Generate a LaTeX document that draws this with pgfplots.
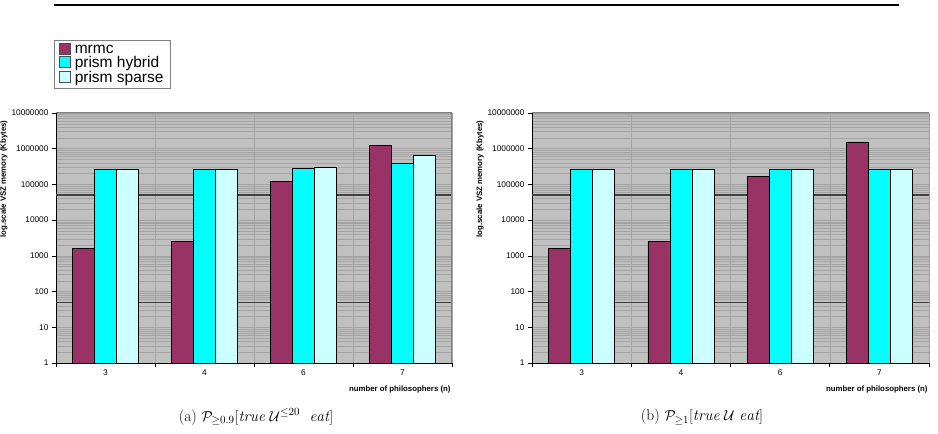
\documentclass[border=0pt]{standalone}
\usepackage{fontspec}
\setsansfont{Liberation Sans}
\usepackage{pgfplots}
\usepackage{pgfplotstable}
\pgfplotsset{compat=1.18}
\pgfkeys{/pgf/number format/assume math mode=true}

\definecolor{mrmc}{HTML}{993366}
\definecolor{hybrid}{HTML}{00FFFF}
\definecolor{sparse}{HTML}{CCFFFF}
\definecolor{plotbg}{HTML}{C0C0C0}
\definecolor{gridc}{HTML}{A4A4A4}
\definecolor{framec}{HTML}{808080}

% VSZ memory (Kbytes) per number of philosophers
\pgfplotstableread{
pos n mrmc hybrid sparse
0 3 1625 265000 265000
1 4 2600 265000 265000
2 6 122500 283000 307000
3 7 1216000 380000 638000
}\bounded

\pgfplotstableread{
pos n mrmc hybrid sparse
0 3 1625 265000 265000
1 4 2600 265000 265000
2 6 165000 265000 265000
3 7 1543000 265000 265000
}\unbounded

\pgfplotsset{
  every axis/.append style={
    scale only axis, height=250pt,
    ymin=1, ymax=1e7,
    xmin=-0.5, xmax=3.5,
    axis lines*=left,
    axis line style={black, line width=0.8pt},
    tick align=outside, major tick length=4pt, minor tick length=0pt,
    tick style={black, line width=0.6pt},
    xtick={-0.5,0.5,1.5,2.5,3.5}, xticklabels={},
    extra x ticks={0,1,2,3}, extra x tick labels={3,4,6,7},
    extra x tick style={major tick length=0pt, grid=none},
    ytick={1,10,100,1000,10000,100000,1000000,10000000},
    yticklabels={1,10,100,1000,10000,100000,1000000,10000000},
    minor ytick={2,3,4,5,6,7,8,9,
      20,30,40,50,60,70,80,90,
      200,300,400,500,600,700,800,900,
      2000,3000,4000,5000,6000,7000,8000,9000,
      2e4,3e4,4e4,5e4,6e4,7e4,8e4,9e4,
      2e5,3e5,4e5,5e5,6e5,7e5,8e5,9e5,
      2e6,3e6,4e6,5e6,6e6,7e6,8e6,9e6},
    xmajorgrids, ymajorgrids, yminorgrids,
    major grid style={gridc, line width=0.5pt},
    minor grid style={gridc, line width=0.45pt},
    axis background/.style={fill=plotbg},
    tick label style={font=\sffamily\fontsize{8.3}{9}\selectfont},
    xticklabel style={yshift=-3pt},
    ylabel={log.scale VSZ memory (Kbytes)},
    xlabel={number of philosophers (n)},
    ylabel style={at={([xshift=-52pt]rel axis cs:0,0.736)}, anchor=center,
      font=\sffamily\bfseries\fontsize{7.8}{9}\selectfont},
    xlabel style={at={([xshift=2pt,yshift=-26pt]rel axis cs:1,0)}, anchor=east,
      font=\sffamily\bfseries\fontsize{7.8}{9}\selectfont},
  },
  vszbar/.style={ybar, bar width=22pt, draw=black, line width=0.6pt},
  vszline/.style={forget plot, sharp plot, no marks, draw=black!75, line width=1.4pt},
}

\begin{document}
\begin{tikzpicture}
\useasboundingbox (0,0) rectangle (938pt,434pt);
\draw[line width=1.2pt] (54pt,429pt) -- (899pt,429pt);

\begin{semilogyaxis}[at={(56pt,71pt)}, anchor=south west, width=396pt,
  legend style={at={(rel axis cs:-0.005,1.29)}, anchor=north west,
    draw=framec, fill=white, font=\sffamily\fontsize{15.5}{15.5}\selectfont,
    row sep=-2pt, inner xsep=5pt, inner ysep=2pt, cells={anchor=west}},
  legend image code/.code={\draw[#1, draw=black!70, line width=0.5pt] (0pt,-4.5pt) rectangle (11pt,6.5pt);
    \path (13pt,0pt);}]
  \addplot[vszline] coordinates {(-0.5,50) (3.5,50)};
  \addplot[vszline] coordinates {(-0.5,50000) (3.5,50000)};
  \addplot[vszbar, bar shift=-22pt, fill=mrmc] table[x=pos, y=mrmc] {\bounded};
  \addplot[vszbar, bar shift=0pt, fill=hybrid] table[x=pos, y=hybrid] {\bounded};
  \addplot[vszbar, bar shift=22pt, fill=sparse] table[x=pos, y=sparse] {\bounded};
  \legend{mrmc, prism hybrid, prism sparse}
  \draw[framec, line width=1pt] (rel axis cs:0,1) -- (rel axis cs:1,1) -- (rel axis cs:1,0);
\end{semilogyaxis}

\begin{semilogyaxis}[at={(532pt,71pt)}, anchor=south west, width=397pt]
  \addplot[vszline] coordinates {(-0.5,50) (3.5,50)};
  \addplot[vszline] coordinates {(-0.5,50000) (3.5,50000)};
  \addplot[vszbar, bar shift=-22pt, fill=mrmc] table[x=pos, y=mrmc] {\unbounded};
  \addplot[vszbar, bar shift=0pt, fill=hybrid] table[x=pos, y=hybrid] {\unbounded};
  \addplot[vszbar, bar shift=22pt, fill=sparse] table[x=pos, y=sparse] {\unbounded};
  \draw[framec, line width=1pt] (rel axis cs:0,1) -- (rel axis cs:1,1) -- (rel axis cs:1,0);
\end{semilogyaxis}

\node at (256pt,17pt) {\fontsize{15.5}{17}\selectfont (a)\ $\mathcal{P}_{\geq 0.9}[\mathit{true}\ \mathcal{U}^{\leq 20}\ \ \mathit{eat}]$};
\node at (702pt,17pt) {\fontsize{15.5}{17}\selectfont (b)\ $\mathcal{P}_{\geq 1}[\mathit{true}\ \mathcal{U}\ \mathit{eat}]$};
\end{tikzpicture}
\end{document}
